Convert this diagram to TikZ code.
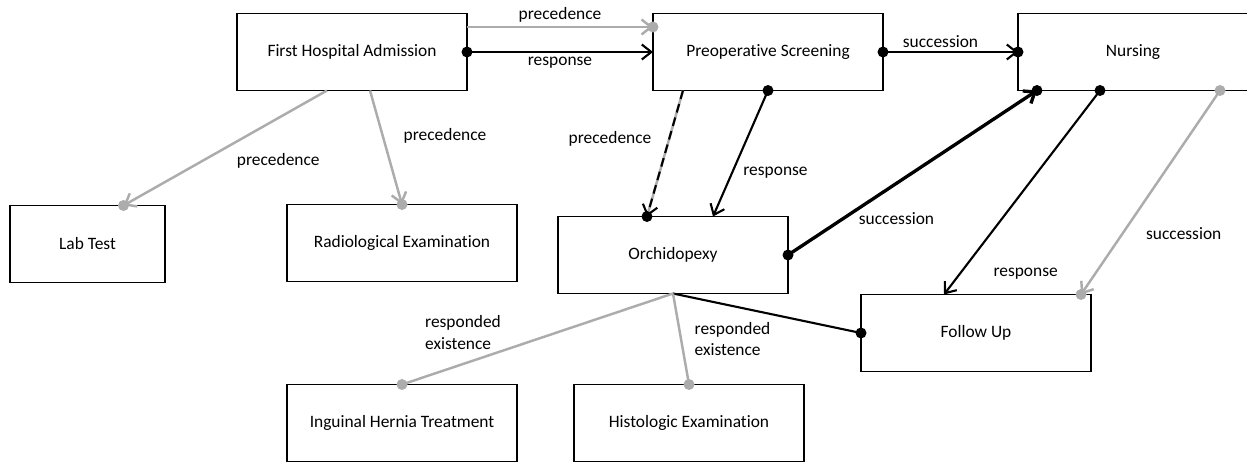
\documentclass[tikz,border=0pt]{standalone}
\usepackage{fontspec}
\setmainfont{Carlito}[Ligatures=NoCommon]
\usetikzlibrary{arrows.meta, positioning}
\definecolor{linegray}{RGB}{172,172,172}

\begin{document}
\begin{tikzpicture}[
    node distance=2cm and 1cm,
    font=\fontsize{9.9}{12}\selectfont,
    box/.style={draw, line width=1.1pt, minimum width=4.6cm, minimum height=1.54cm, inner sep=0pt, outer sep=0pt},
    lbl/.style={inner sep=2pt, align=left},
    arrow/.style={-{Straight Barb[length=1.9mm, width=3mm]}},
    con/.style={line width=1.2pt},
    thickcon/.style={line width=1.9pt},
    pale/.style={line width=1.4pt, draw=linegray}
]
\useasboundingbox (0,0) rectangle (24.94,-9.24);

% Nodes
\node (fha) [box] at (7.04,-1.04) {First Hospital Admission};
\node (ps) [box, right=3.72cm of fha] {Preoperative Screening};
\node (nur) [box, right=2.7cm of ps] {Nursing};
\node (lab) [box, minimum width=3.1cm, below left=2.3cm and 1.44cm of fha] {Lab Test};
\node (rad) [box, below=2.28cm of fha, xshift=1cm] {Radiological Examination};
\node (orch) [box, below=2.52cm of ps, xshift=-1.9cm] {Orchidopexy};
\node (follow) [box, right=1.46cm of orch, yshift=-1.56cm] {Follow Up};
\node (ingu) [box, below=1.82cm of orch, xshift=-5.42cm] {Inguinal Hernia Treatment};
\node (histo) [box, below=1.82cm of orch, xshift=0.32cm] {Histologic Examination};

% Top row
\draw [pale, arrow] ([yshift=0.5cm]fha.east) -- ([yshift=0.5cm]ps.west) node [lbl, midway, above] {precedence};
\fill [linegray] ([yshift=0.5cm]ps.west) circle (0.11);
\draw [con, arrow] (fha.east) -- (ps.west) node [lbl, midway, below] {response};
\fill (fha.east) circle (0.11);
\draw [con, arrow] (ps.east) -- (nur.west) node [lbl, midway, above, xshift=-0.2cm] {succession};
\fill (ps.east) circle (0.11);
\fill (nur.west) circle (0.11);

% From First Hospital Admission
\draw [pale, arrow] ([xshift=-0.5cm]fha.south) -- ([xshift=0.72cm]lab.north) node [lbl, midway, xshift=1.06cm, yshift=-0.25cm] {precedence};
\fill [linegray] ([xshift=0.72cm]lab.north) circle (0.11);
\draw [pale, arrow] ([xshift=0.36cm]fha.south) -- (rad.north) node [lbl, midway, xshift=1.18cm, yshift=0.24cm] {precedence};
\fill [linegray] (rad.north) circle (0.11);

% From Preoperative Screening
\draw [pale] ([xshift=-1.7cm]ps.south) -- ([xshift=-0.52cm]orch.north);
\draw [con, arrow, dash pattern=on 5pt off 3pt] ([xshift=-1.7cm]ps.south) -- ([xshift=-0.52cm]orch.north) node [lbl, midway, xshift=-1.1cm, yshift=0.3cm] {precedence};
\fill ([xshift=-0.52cm]orch.north) circle (0.11);
\draw [con, arrow] (ps.south) -- ([xshift=0.8cm]orch.north) node [lbl, midway, xshift=0.7cm, yshift=-0.38cm] {response};
\fill (ps.south) circle (0.11);

% Orchidopexy and Nursing
\draw [thickcon, arrow] (orch.east) -- ([xshift=-1.92cm]nur.south) node [lbl, midway, xshift=-0.32cm, yshift=-0.91cm] {succession};
\fill (orch.east) circle (0.11);
\fill ([xshift=-1.92cm]nur.south) circle (0.11);
\draw [con, arrow] ([xshift=-0.66cm]nur.south) -- ([xshift=-0.64cm]follow.north) node [lbl, pos=0.9, xshift=1.32cm] {response};
\fill ([xshift=-0.66cm]nur.south) circle (0.11);
\draw [pale, arrow] ([xshift=1.74cm]nur.south) -- ([xshift=2.1cm]follow.north) node [lbl, pos=0.7, xshift=1.22cm] {succession};
\fill [linegray] ([xshift=1.74cm]nur.south) circle (0.11);
\fill [linegray] ([xshift=2.1cm]follow.north) circle (0.11);

% From Orchidopexy downwards
\draw [con] (orch.south) -- (follow.west);
\fill (follow.west) circle (0.11);
\draw [pale] (orch.south) -- (ingu.north) node [lbl, midway, xshift=-1.49cm, yshift=0.13cm] {responded\\existence};
\fill [linegray] (ingu.north) circle (0.11);
\draw [pale] (orch.south) -- (histo.north) node [lbl, midway, xshift=1.03cm] {responded\\existence};
\fill [linegray] (histo.north) circle (0.11);

\end{tikzpicture}
\end{document}
